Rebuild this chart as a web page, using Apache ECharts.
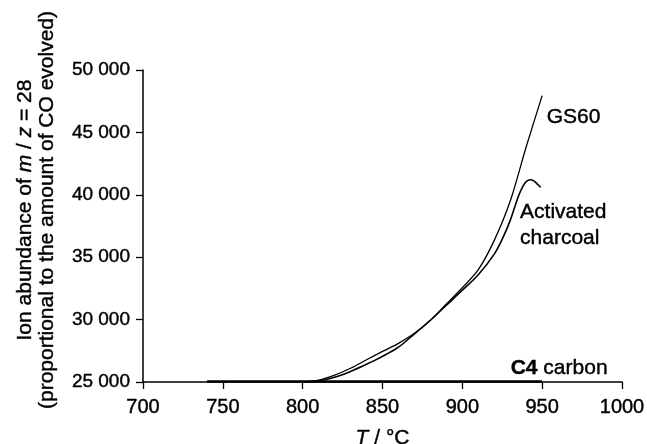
<!DOCTYPE html>
<html>
<head>
<meta charset="utf-8">
<script src="https://cdn.jsdelivr.net/npm/echarts@6/dist/echarts.min.js"></script>
<style>
  html, body { margin: 0; padding: 0; background: #fff; }
  #chart { width: 647px; height: 444px; }
</style>
</head>
<body>
<div id="chart"></div>
<script>
// axis ticks
const xTicks = [700, 750, 800, 850, 900, 950, 1000];
const yTicks = [25000, 30000, 35000, 40000, 45000, 50000];

// GS60
const gs60T = [800, 810, 820, 830, 840, 850, 860, 870, 880, 890, 900, 910, 920, 930, 940, 950];
const gs60Y = [25000, 25150, 25550, 26100, 26780, 27450, 28100, 28900, 29950, 31250, 32550, 34000, 36350, 39500, 43850, 47950];

// Activated charcoal
const acT = [800, 810, 820, 830, 840, 850, 860, 870, 880, 890, 900, 910, 920, 925, 930, 935, 938, 940, 942.5, 945, 947, 949];
const acY = [25000, 25080, 25380, 25850, 26420, 27050, 27790, 28850, 29950, 31150, 32350, 33600, 35250, 36450, 37950, 39850, 40700, 41050, 41200, 41100, 40850, 40600];

// C4 carbon
const c4T = [740, 800, 850, 900, 950];
const c4Y = [25040, 25040, 25050, 25050, 25040];

const font = 'Liberation Sans';
// the scanned print looks heavy, thicken text a little
const ink = { color: '#000', textBorderColor: '#000', textBorderWidth: 0.4 };

const pairs = (xs, ys) => xs.map((x, i) => [x, ys[i]]);
const last = (xs, ys) => [xs[xs.length - 1], ys[ys.length - 1]];
const fmtThousands = (v) => String(v).replace(/\B(?=(\d{3})+(?!\d))/g, ' ');

// label put next to the end of a curve
const endMark = (coord, text, offset, rich) => ({
  symbol: 'circle',
  symbolSize: 1,
  itemStyle: { color: 'transparent' },
  silent: true,
  data: [{ coord: coord }],
  label: Object.assign({
    show: true,
    position: 'right',
    distance: 5,
    offset: offset,
    align: 'left',
    fontFamily: font,
    fontSize: 21,
    lineHeight: 26,
    formatter: text,
    rich: rich || {}
  }, ink)
});

const chart = echarts.init(document.getElementById('chart'));

chart.setOption({
  animation: false,
  backgroundColor: '#fff',
  grid: { left: 143, right: 25, top: 70, bottom: 62, outerBoundsMode: 'none', containLabel: false },
  xAxis: {
    type: 'value',
    min: xTicks[0],
    max: xTicks[xTicks.length - 1],
    interval: 50,
    name: '{i|T}{n| / °C}',
    nameLocation: 'middle',
    nameGap: 46,
    nameTextStyle: Object.assign({
      fontFamily: font,
      fontSize: 21,
      rich: {
        i: Object.assign({ fontStyle: 'italic', fontFamily: font, fontSize: 21 }, ink),
        n: Object.assign({ fontFamily: font, fontSize: 21 }, ink)
      }
    }, ink),
    axisLine: { show: true, lineStyle: { color: '#000', width: 1.5 } },
    axisTick: { show: true, length: 7, lineStyle: { color: '#000', width: 1.3 } },
    axisLabel: Object.assign({
      fontFamily: font,
      fontSize: 20,
      margin: 15,
      formatter: (v) => String(v)
    }, ink),
    splitLine: { show: false }
  },
  yAxis: {
    type: 'value',
    min: yTicks[0],
    max: yTicks[yTicks.length - 1],
    interval: 5000,
    name: '{n|Ion abundance of }{i|m}{n| / }{i|z}{n| = 28}\n{n|(proportional to the amount of CO evolved)}',
    nameLocation: 'middle',
    nameRotate: 90,
    nameGap: 85,
    nameTextStyle: Object.assign({
      fontFamily: font,
      fontSize: 21,
      lineHeight: 22,
      padding: [0, 0, 0, 32],
      rich: {
        i: Object.assign({ fontStyle: 'italic', fontFamily: font, fontSize: 21, lineHeight: 22 }, ink),
        n: Object.assign({ fontFamily: font, fontSize: 21, lineHeight: 22 }, ink)
      }
    }, ink),
    axisLine: { show: true, lineStyle: { color: '#000', width: 1.5 } },
    axisTick: { show: true, length: 7, lineStyle: { color: '#000', width: 1.3 } },
    axisLabel: Object.assign({
      fontFamily: font,
      fontSize: 19,
      margin: 13,
      formatter: fmtThousands
    }, ink),
    splitLine: { show: false }
  },
  series: [
    {
      name: 'GS60',
      type: 'line',
      data: pairs(gs60T, gs60Y),
      smooth: 0.3,
      showSymbol: false,
      lineStyle: { color: '#000', width: 1.3 },
      markPoint: endMark(last(gs60T, gs60Y), 'GS60', [-1, 22])
    },
    {
      name: 'Activated charcoal',
      type: 'line',
      data: pairs(acT, acY),
      smooth: 0.3,
      showSymbol: false,
      lineStyle: { color: '#000', width: 1.6 },
      markPoint: endMark(last(acT, acY), 'Activated\ncharcoal', [-26, 38])
    },
    {
      name: 'C4 carbon',
      type: 'line',
      data: pairs(c4T, c4Y),
      showSymbol: false,
      lineStyle: { color: '#000', width: 2.5 },
      markPoint: endMark(last(c4T, c4Y), '{b|C4} carbon', [-37, -13], {
        b: Object.assign({ fontWeight: 'bold', fontFamily: font, fontSize: 21 }, ink)
      })
    }
  ]
});
</script>
</body>
</html>
